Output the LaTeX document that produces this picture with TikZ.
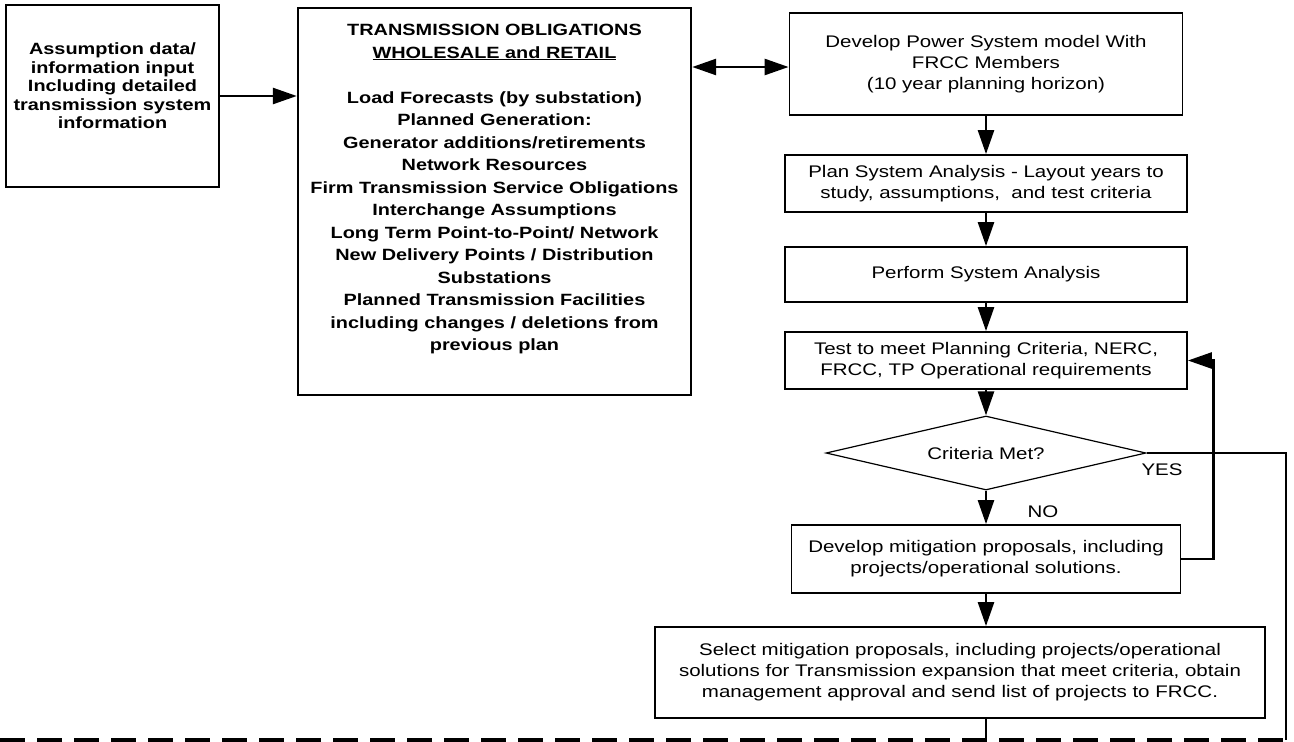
\documentclass[tikz,border=0pt]{standalone}
\usepackage{fontspec}
\setmainfont{Liberation Sans}[FakeStretch=1.22]
\usetikzlibrary{arrows.meta,shapes.geometric,calc}
\begin{document}
\begin{tikzpicture}[x=1pt,y=-1pt,
  flowbox/.style={draw,line width=1.8pt,rectangle,inner sep=0pt},
  heavybox/.style={flowbox,line width=2.4pt},
  conn/.style={line width=2.6pt},
  tip/.tip={Triangle[length=24pt,width=16pt]},
  arr/.style={conn,-tip},
  dual/.style={conn,tip-tip},
  rtext/.style={font=\fontsize{16.8}{21}\selectfont,align=center},
  btext/.style={font=\bfseries\fontsize{16.3}{18.5}\selectfont,align=center,inner sep=0pt},
  mtext/.style={font=\bfseries\fontsize{16.3}{22.5}\selectfont,align=center,inner sep=0pt},
]
\useasboundingbox (0,0) rectangle (1294,742);

% input data box
\node[heavybox,minimum width=213pt,minimum height=182pt] (inp) at (112.5,96) {};
\node[btext] (inptxt) at (112.5,86) {Assumption data/\\information input\\Including detailed\\transmission system\\information};

% obligations box
\node[heavybox,minimum width=393pt,minimum height=387pt] (obl) at (494.5,201.5) {};
\node[mtext,anchor=north] (obltxt) at (494.5,24) {TRANSMISSION OBLIGATIONS\\
\underline{WHOLESALE and RETAIL}\\[22.5pt]
Load Forecasts (by substation)\\
Planned Generation:\\
Generator additions/retirements\\
Network Resources\\
Firm Transmission Service Obligations\\
Interchange Assumptions\\
Long Term Point-to-Point/ Network\\
New Delivery Points / Distribution\\
Substations\\
Planned Transmission Facilities\\
including changes / deletions from\\
previous plan};

% main process column
\node[flowbox,rtext,minimum width=393pt,minimum height=102pt] (model) at (986,64)
  {Develop Power System model With\\FRCC Members\\(10 year planning horizon)};
\node[flowbox,rtext,minimum width=402pt,minimum height=57pt] (plan) at (986,183.5)
  {Plan System Analysis - Layout years to\\study, assumptions,\ \ and test criteria};
\node[flowbox,rtext,minimum width=402pt,minimum height=55pt] (perf) at (986,274.5)
  {Perform System Analysis};
\node[flowbox,rtext,minimum width=402pt,minimum height=57pt] (test) at (986,360.5)
  {Test to meet Planning Criteria, NERC,\\FRCC, TP Operational requirements};
\node[draw,diamond,aspect=4.3,line width=1.2pt,inner sep=0pt,rtext,
  minimum width=320pt,minimum height=74pt] (crit) at (986,453) {Criteria Met?};
\node[flowbox,rtext,minimum width=389pt,minimum height=68pt] (mitig) at (986,559)
  {Develop mitigation proposals, including\\projects/operational solutions.};
\node[flowbox,rtext,minimum width=610pt,minimum height=91pt] (select) at (960,672.5)
  {Select mitigation proposals, including projects/operational\\
   solutions for Transmission expansion that meet criteria, obtain\\
   management approval and send list of projects to FRCC.};

% branch labels
\node[rtext] (yes) at (1162,470) {YES};
\node[rtext] (no) at (1043,512) {NO};

% dashed boundary
\coordinate (dashL) at (0,740);
\coordinate (dashR) at (1286,740);
\draw[line width=4pt,dash pattern=on 24.5pt off 12.5pt] (dashL) -- (dashR);

% connectors
\draw[arr] (inp.east) -- (inp.east -| obl.west);
\draw[dual] (obl.east |- 0,67) -- (model.west |- 0,67);
\draw[arr] (model) -- (plan);
\draw[arr] (plan) -- (perf);
\draw[arr] (perf) -- (test);
\draw[arr] (test) -- (crit);
\draw[arr] (crit) -- (mitig);
\draw[arr] (mitig.south) -- (mitig.south |- select.north);
\draw[conn] (mitig.south |- select.south) -- (mitig.south |- dashR);
\draw[arr] (mitig.east) -- ++(32,0) |- (test.east);
\draw[conn] (crit.east) -| (dashR);
\end{tikzpicture}
\end{document}
